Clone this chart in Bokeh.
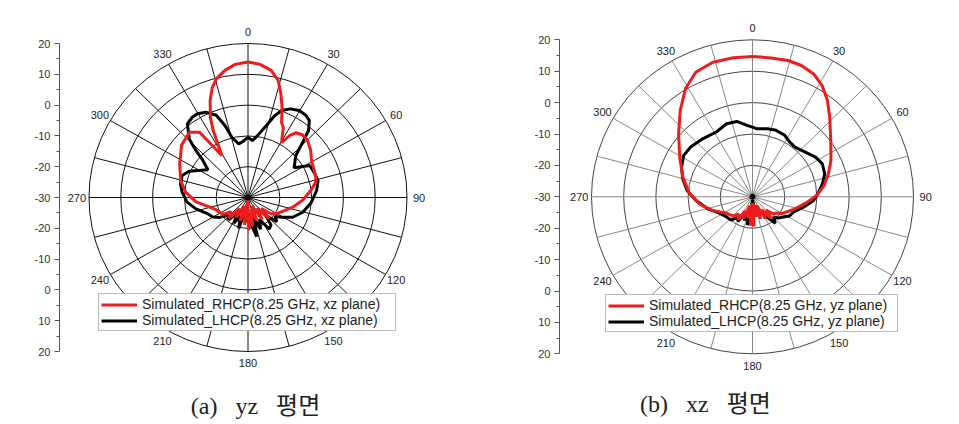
import numpy as np
from bokeh.plotting import figure
from bokeh.layouts import row
from bokeh.models import Range1d, LinearAxis, FixedTicker, Legend, LegendItem
from bokeh.core.properties import value
from bokeh.embed import file_html
from bokeh.resources import INLINE

# ---------------- data (angle in degrees, clockwise from top; gain in dB) ----------------
a_rhcp_ang = [0, 5, 10, 14, 17, 20, 23.5, 26.2, 28.5, 30.8, 33, 35.5, 40, 45, 52, 59, 66, 73, 77, 83,
              93, 103, 115, 120, 126, 131, 136, 142, 148, 154, 160, 166, 171, 175, 179, 183, 187,
              192, 198, 204, 210, 216, 222, 229, 235, 240, 249.5, 257, 265, 275, 284.6, 297, 309, 319,
              324.3, 328.9, 333.3, 335.5, 337.5, 339.3, 342.6, 345.5, 350, 354.7, 360]
a_rhcp_db = [14.0, 13.4, 11.9, 9.2, 5.3, 1.3, -3.5, -4.8, -7.5, -9.3, -6.0, -4.2, -3.4, -3.6, -5.0, -6.7,
             -7.3, -7.7, -8.2, -10.0, -12.8, -15.7, -18.7, -19.5, -21.0, -24.5, -20.5, -25.5, -21.5,
             -27.0, -22.0, -26.0, -20.5, -24.0, -19.3, -29.0, -21.0, -26.5, -22.0, -27.0, -22.5,
             -25.5, -21.0, -23.0, -20.5, -20.0, -19.0, -17.1, -13.6, -10.3, -8.1, -5.9, -3.1, -1.9,
             -3.9, -14.1, -5.6, -1.5, 1.0, 3.7, 7.5, 9.8, 11.9, 13.4, 14.0]

a_lhcp_ang = [0, 4.3, 8.6, 13.8, 17.6, 20.6, 24.8, 29.6, 34.3, 37.6, 41.2, 43.7, 47.8, 56.4, 61.8, 69.9,
              76, 84, 94.4, 105.5, 114.6, 120.8, 126, 131, 136, 141, 147, 153, 159, 164, 168, 174,
              180, 186, 191, 196, 202, 208, 214, 220, 227, 234, 240, 249, 257.3, 265.5,
              274.8, 281.8, 289, 294.8, 305.6, 310.3, 313, 315.8, 321.5, 326.1, 329.6, 334.5, 339.5,
              342.8, 345.4, 350.5, 356, 360]
a_lhcp_db = [-10.4, -11.5, -9.6, -6.0, -2.1, 0.2, 1.7, 2.5, 2.3, 1.6, -1.1, -5.0, -9.7, -12.6, -8.0, -7.6,
             -7.3, -8.3, -10.0, -12.1, -14.6, -17.5, -19.5, -18.0, -22.0, -18.5, -17.8, -22.0, -19.0,
             -23.0, -17.0, -21.5, -25.0, -22.0, -26.0, -19.5, -23.5, -20.5, -24.0, -20.5, -21.5, -19.0,
             -17.3, -15.9, -13.2, -10.8, -9.2, -8.3, -8.1, -9.6, -14.5,
             -11.4, -7.6, -3.5, 0.6, 1.4, 1.5, 0.7, -1.5, -5.5, -9.8, -12.4, -11.5, -10.4]

b_rhcp_ang = [0, 7.4, 14.3, 20, 25.9, 31.4, 37.2, 43.4, 53.6, 64.5, 72.7, 80.8, 88, 96, 108, 121, 125,
              130, 135, 140, 145, 150, 155, 160, 165, 170, 174, 177, 180, 182, 184, 187, 192, 197, 202,
              207, 212, 218, 224, 230, 237.2, 250.5, 262.3, 274.3, 286.1, 299.2, 311.2, 320.8, 328.8,
              336, 344, 352.4, 360]
b_rhcp_db = [14.7, 14.6, 14.8, 14.5, 13.5, 11.5, 8.5, 4.9, 0.2, -3.0, -5.3, -7.5, -9.8, -13.0, -16.7,
             -19.6, -21.0, -21.5, -24.0, -21.0, -25.0, -22.0, -27.0, -22.5, -26.0, -23.5, -28.0, -20.8,
             -21.0, -28.0, -20.8, -27.0, -23.0, -27.0, -22.5, -25.0, -21.5, -23.0, -21.5, -21.0, -20.4,
             -16.9, -13.3, -10.2, -7.5, -4.1, 0.5, 5.5, 10.2, 13.4, 14.6, 14.7, 14.7]

b_lhcp_ang = [0, 3.9, 12.2, 19.1, 27, 33.6, 39.8, 49, 57.1, 64.1, 71.9, 79.2, 85.9, 93.5, 101.8, 111,
              118, 124, 130, 135, 140, 143, 148, 155, 165, 172, 178, 185, 190, 193, 198, 203, 210, 215,
              222, 231.3, 243, 254.6, 266.2, 275.7, 284.8, 293.2, 301.7, 309.5, 320, 331.4, 341, 348.5,
              355.7, 360]
b_lhcp_db = [-7.8, -8.3, -7.8, -7.6, -8.0, -9.1, -9.4, -8.3, -6.7, -5.9, -6.4, -7.9, -9.4, -11.0, -13.8,
             -16.4, -17.0, -18.5, -19.5, -20.8, -19.0, -21.0, -23.0, -25.0, -27.0, -24.0, -29.0, -26.0,
             -20.8, -25.0, -22.0, -24.0, -21.0, -22.0, -20.0, -19.7, -18.5, -15.6, -12.4, -9.6, -7.6,
             -6.0, -4.9, -5.1, -5.9, -6.5, -5.4, -5.5, -7.2, -7.8]

ring_db = [-20, -10, 0, 10, 20]
axis_ticks_db = [20, 10, 0, -10, -20, -30, -20, -10, 0, 10, 20]
angle_labels = [0, 30, 60, 90, 120, 150, 180, 210, 240, 270, 300, 330]
spoke_step = 15

a_labels = ["Simulated_RHCP(8.25 GHz, xz plane)", "Simulated_LHCP(8.25 GHz, xz plane)"]
b_labels = ["Simulated_RHCP(8.25 GHz, yz plane)", "Simulated_LHCP(8.25 GHz, yz plane)"]
captions = ["(a)\u00a0\u00a0\u00a0yz\u00a0\u00a0\u00a0평면", "(b)\u00a0\u00a0\u00a0xz\u00a0\u00a0\u00a0평면"]

R_MIN, R_MAX = -30, 20
RED = "#ee1c1c"
H = 424


def polar_xy(ang, db):
    a = np.radians(np.asarray(ang, float))
    r = np.clip(np.asarray(db, float) - R_MIN, 0, None)
    return r * np.sin(a), r * np.cos(a)


def panel(width, border_left, cx, cy, sx, sy, ring_col, spoke_col, rh, lh, labels,
          leg_loc, label_w, caption, cap_px):
    p = figure(width=width, height=H, x_axis_type=None, y_axis_type=None,
               toolbar_location=None, output_backend="svg",
               min_border_left=border_left, min_border_right=0,
               min_border_top=0, min_border_bottom=0,
               x_range=Range1d((border_left - cx) / sx, (width - cx) / sx),
               y_range=Range1d(-(H - cy) / sy, cy / sy))
    p.outline_line_color = None
    p.background_fill_color = "white"
    p.border_fill_color = "white"

    span = R_MAX - R_MIN
    # rings
    rr = [2 * (d - R_MIN) for d in ring_db]
    p.ellipse(x=[0] * len(rr), y=[0] * len(rr), width=rr, height=rr,
              fill_color=None, line_color=ring_col, line_width=1)
    # spokes
    sa = np.radians(np.arange(0, 360, spoke_step))
    p.segment(x0=np.zeros(len(sa)), y0=np.zeros(len(sa)),
              x1=span * np.sin(sa), y1=span * np.cos(sa),
              line_color=spoke_col, line_width=1)
    # angle labels
    la = np.radians(angle_labels)
    p.text(x=53.8 * np.sin(la), y=53.8 * np.cos(la), text=[str(a) for a in angle_labels],
           text_align="center", text_baseline="middle", text_font_size="11px",
           text_font=value("Liberation Sans"), text_color="#222222")
    p.scatter(x=[0], y=[0], size=5, color="black")

    # curves
    xb, yb = polar_xy(*lh)
    r_l = p.line(xb, yb, line_color="black", line_width=3)
    xr, yr = polar_xy(*rh)
    r_r = p.line(xr, yr, line_color=RED, line_width=3)

    # radial axis on the left
    pos = [t - R_MIN for t in axis_ticks_db[:5]] + [0] + [-(t - R_MIN) for t in axis_ticks_db[6:]]
    minors = [v + 5 for v in range(-span, span, 10)]
    ax = LinearAxis(ticker=FixedTicker(ticks=pos, minor_ticks=minors),
                    bounds=(-span, span),
                    major_label_overrides={float(v): str(t) for v, t in zip(pos, axis_ticks_db)})
    ax.axis_line_color = "#555555"
    ax.major_tick_line_color = "#555555"
    ax.minor_tick_line_color = "#555555"
    ax.major_tick_out = 5
    ax.major_tick_in = 0
    ax.minor_tick_out = 3
    ax.minor_tick_in = 0
    ax.major_label_text_font_size = "11px"
    ax.major_label_text_font = "Liberation Sans"
    ax.major_label_text_color = "#333333"
    ax.major_label_standoff = 4
    p.add_layout(ax, "left")

    leg = Legend(items=[LegendItem(label=labels[0], renderers=[r_r]),
                        LegendItem(label=labels[1], renderers=[r_l])],
                 location=leg_loc, orientation="vertical",
                 padding=2, spacing=0, margin=0,
                 glyph_width=36, glyph_height=15, label_height=15,
                 label_standoff=5, label_width=label_w,
                 label_text_font_size="14px", label_text_font="Liberation Sans",
                 label_text_color="#222222",
                 border_line_color="#777777", border_line_width=1,
                 background_fill_color="white", background_fill_alpha=1.0)
    p.add_layout(leg)

    # caption
    p.text(x=[(cap_px[0] - cx) / sx], y=[(cy - cap_px[1]) / sy], text=[caption],
           text_align="center", text_baseline="middle", text_font_size="24px",
           text_font=value("Liberation Serif, Noto Sans CJK KR"), text_color="#222222")
    return p


p1 = panel(480, 59, 247.5, 197.0, 159 / 50, 154 / 50, "#111111", "#111111",
           (a_rhcp_ang, a_rhcp_db), (a_lhcp_ang, a_lhcp_db), a_labels,
           (39, 93), 251, captions[0], (255, 405))
p2 = panel(479, 79, 272.0, 196.3, 161 / 50, 157 / 50, "#444444", "#888888",
           (b_rhcp_ang, b_rhcp_db), (b_lhcp_ang, b_lhcp_db), b_labels,
           (46, 92), 246, captions[1], (705 - 480, 403))

layout = row(p1, p2, spacing=0)
open("out.html", "w").write(file_html(layout, INLINE))
